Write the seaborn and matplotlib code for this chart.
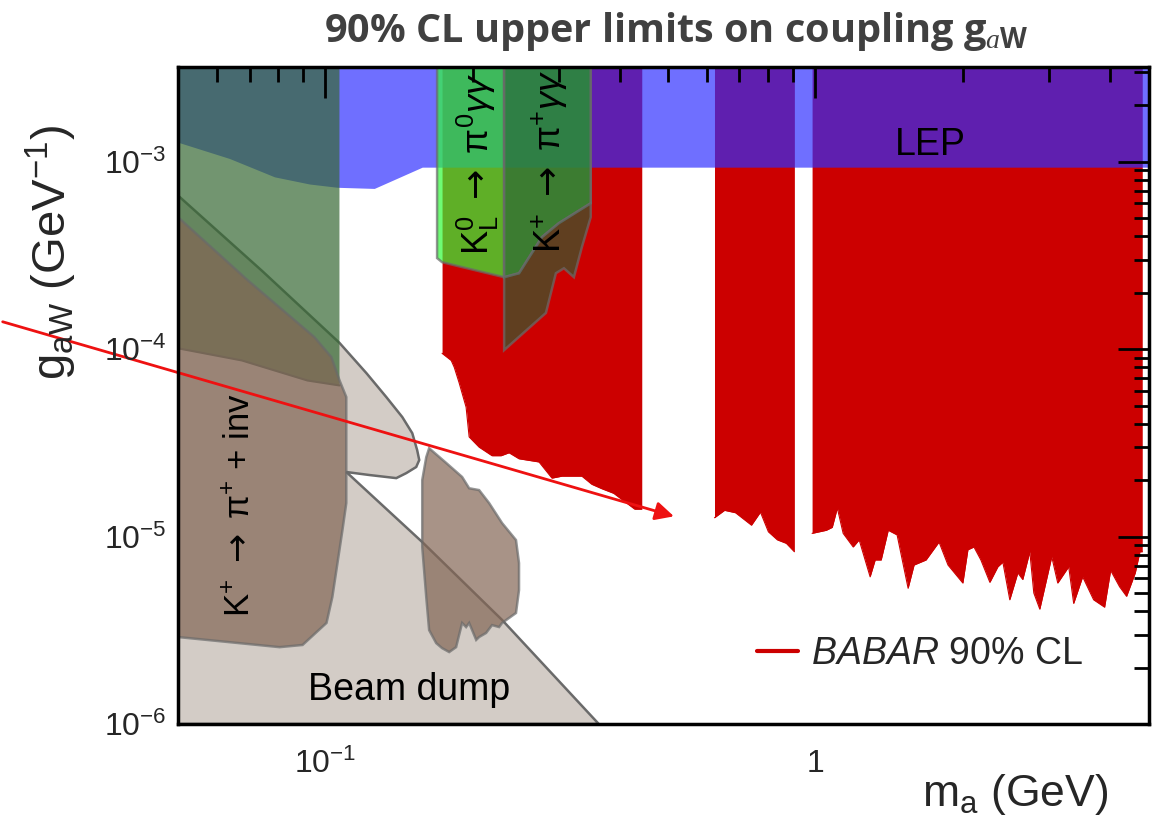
import numpy as np
import matplotlib
matplotlib.use("Agg")
import matplotlib.pyplot as plt
from matplotlib.lines import Line2D
from matplotlib.ticker import LogLocator, NullFormatter, FixedLocator, FixedFormatter
import seaborn as sns

# ---------------- axis ranges ----------------
m_lo, m_hi = 0.05, 4.8          # m_a (GeV)
g_lo, g_hi = 1e-6, 3.2e-3       # g_aW (GeV^-1)

# ---------------- BABAR 90% CL upper limit (three mass windows) ----------------
babar_m1 = [0.173, 0.1806, 0.1832, 0.1875, 0.1937, 0.1965, 0.2059, 0.2188, 0.2284, 0.237,
            0.2484, 0.2729, 0.29, 0.3039, 0.3338, 0.3498, 0.3666, 0.3878, 0.428, 0.4423]
babar_g1 = [9.5e-5, 8.7e-5, 8.0e-5, 6.6e-5, 4.9e-5, 3.4e-5, 3.0e-5, 2.7e-5, 2.7e-5, 2.8e-5,
            2.6e-5, 2.5e-5, 2.05e-5, 2.1e-5, 2.1e-5, 1.9e-5, 1.8e-5, 1.7e-5, 1.4e-5, 1.4e-5]

babar_m2 = [0.6226, 0.6527, 0.6873, 0.7408, 0.7727, 0.8022, 0.8368, 0.8727, 0.9063]
babar_g2 = [1.26e-5, 1.38e-5, 1.34e-5, 1.15e-5, 1.35e-5, 1.06e-5, 9.6e-6, 9.2e-6, 8.3e-6]

babar_m3 = [0.985, 1.053, 1.083, 1.109, 1.14, 1.195, 1.229, 1.294, 1.325, 1.363,
            1.409, 1.469, 1.547, 1.591, 1.683, 1.789, 1.866, 2.001, 2.049, 2.108,
            2.178, 2.272, 2.359, 2.415, 2.495, 2.591, 2.652, 2.741, 2.793, 2.873,
            3.039, 3.126, 3.291, 3.369, 3.514, 3.70, 3.896, 4.008, 4.18, 4.32,
            4.5, 4.6, 4.65]
babar_g3 = [1.04e-5, 1.08e-5, 1.12e-5, 1.42e-5, 1.04e-5, 8.8e-6, 9.6e-6, 6.1e-6, 7.5e-6, 7.5e-6,
            1.08e-5, 1.02e-5, 5.3e-6, 7.05e-6, 7.5e-6, 9.35e-6, 7.05e-6, 5.65e-6, 8.5e-6, 8.8e-6,
            7.5e-6, 5.7e-6, 6.9e-6, 7.3e-6, 4.6e-6, 6.4e-6, 5.9e-6, 8.3e-6, 5.0e-6, 4.1e-6,
            7.8e-6, 5.65e-6, 6.9e-6, 4.4e-6, 6.1e-6, 4.6e-6, 4.2e-6, 6.6e-6, 5.4e-6, 4.8e-6,
            6.4e-6, 8.3e-6, 8.3e-6]

# ---------------- LEP (lower edge of excluded band) ----------------
lep_m = [0.05, 0.0637, 0.0787, 0.0928, 0.1058, 0.1258, 0.1576, 4.8]
lep_g = [1.27e-3, 1.04e-3, 8.3e-4, 7.6e-4, 7.3e-4, 7.2e-4, 9.35e-4, 9.35e-4]

# ---------------- beam dump ----------------
dump_m = [0.05, 0.0744, 0.1068, 0.1212, 0.1331, 0.1435, 0.1504, 0.1539, 0.1554, 0.1532,
          0.1462, 0.1395, 0.1229, 0.1103, 0.1576, 0.2294, 0.3614, 0.05]
dump_g = [6.6e-4, 2.6e-4, 1.08e-4, 7.45e-5, 5.55e-5, 4.34e-5, 3.56e-5, 2.89e-5, 2.56e-5, 2.35e-5,
          2.18e-5, 2.05e-5, 2.13e-5, 2.21e-5, 9.35e-6, 3.59e-6, 1e-6, 1e-6]

# ---------------- low-mass green band ----------------
green_m = [0.05, 0.1068, 0.1068, 0.0919, 0.0675, 0.05]
green_g = [g_hi, g_hi, 6.4e-5, 6.8e-5, 8.7e-5, 1.01e-4]

# ---------------- K+ -> pi+ + inv ----------------
kinv_m = [0.05, 0.0694, 0.0949, 0.1028, 0.1068, 0.1103, 0.1103, 0.1083, 0.1033, 0.1005,
          0.0898, 0.0806, 0.05]
kinv_g = [5.06e-4, 2.33e-4, 1.16e-4, 9.07e-5, 6.83e-5, 5.55e-5, 1.51e-5, 1.08e-5, 4.76e-6, 3.46e-6,
          2.64e-6, 2.57e-6, 2.91e-6]

kinv2_m = [0.1628, 0.1764, 0.1901, 0.1965, 0.2059, 0.2158, 0.2294, 0.2449, 0.2484, 0.2484,
           0.2449, 0.2294, 0.2262, 0.2188, 0.2128, 0.2059, 0.2031, 0.1965, 0.1937, 0.1901,
           0.1848, 0.1789, 0.173, 0.1683, 0.1628, 0.1606, 0.1576, 0.1576, 0.1606]
kinv2_g = [2.96e-5, 2.47e-5, 2.08e-5, 1.81e-5, 1.77e-5, 1.51e-5, 1.18e-5, 9.58e-6, 7.22e-6, 5.18e-6,
           3.91e-6, 3.46e-6, 3.29e-6, 3.37e-6, 3.06e-6, 2.91e-6, 2.81e-6, 3.46e-6, 3.29e-6, 3.46e-6,
           2.57e-6, 2.42e-6, 2.54e-6, 2.7e-6, 3.17e-6, 4.76e-6, 8.79e-6, 2.0e-5, 2.65e-5]

# ---------------- K_L -> pi0 gamma gamma ----------------
kl_m = [0.169, 0.2316, 0.2316, 0.1901, 0.173, 0.169]
kl_g = [g_hi, g_hi, 2.42e-4, 2.74e-4, 2.91e-4, 3.06e-4]

# ---------------- K+ -> pi+ gamma gamma ----------------
kp_m = [0.2316, 0.348, 0.348, 0.2996, 0.2767, 0.2484, 0.2316]
kp_g = [g_hi, g_hi, 6.0e-4, 4.7e-4, 3.96e-4, 2.54e-4, 2.42e-4]

kp2_m = [0.2316, 0.2484, 0.2767, 0.2996, 0.348, 0.348, 0.3338, 0.3215, 0.3068, 0.2954, 0.2819, 0.2316]
kp2_g = [2.42e-4, 2.54e-4, 3.96e-4, 4.7e-4, 6.0e-4, 5.06e-4, 3.5e-4, 2.42e-4, 2.7e-4, 2.54e-4, 1.56e-4, 9.88e-5]

# ---------------- axis tick labels ----------------
x_major = [0.1, 1.0]
x_major_labels = [r"10$^{-1}$", "1"]
y_major = [1e-6, 1e-5, 1e-4, 1e-3]
y_major_labels = [r"10$^{-6}$", r"10$^{-5}$", r"10$^{-4}$", r"10$^{-3}$"]

# ---------------- style ----------------
sns.set_theme(style="white")
plt.rcParams["font.family"] = ["Liberation Sans", "DejaVu Sans"]
plt.rcParams["mathtext.fontset"] = "custom"
plt.rcParams["mathtext.rm"] = "Liberation Sans"
plt.rcParams["mathtext.it"] = "Liberation Sans:italic"
plt.rcParams["mathtext.bf"] = "Liberation Sans:bold"
plt.rcParams["mathtext.sf"] = "Liberation Serif:italic"
plt.rcParams["mathtext.tt"] = "DejaVu Sans"

RED = "#cc0000"
EDGE = "#6a6a6a"
ARROW = r"$\mathtt{\rightarrow}$"

fig = plt.figure(figsize=(11.64, 8.18), dpi=100)
ax = fig.add_axes([178 / 1164, 1 - 724 / 818, 971 / 1164, 657 / 818])
ax.set_xscale("log")
ax.set_yscale("log")
ax.set_xlim(m_lo, m_hi)
ax.set_ylim(g_lo, g_hi)

# beam dump (bottom layer)
ax.fill(dump_m, dump_g, facecolor="#d3ccc6", edgecolor=EDGE, lw=1.8, zorder=1)

# BABAR exclusion: from the limit up to the top of the frame
for m, g in ((babar_m1, babar_g1), (babar_m2, babar_g2), (babar_m3, babar_g3)):
    ax.fill_between(m, g, g_hi, color=RED, lw=0, zorder=2)
    sns.lineplot(x=m, y=g, color=RED, lw=0.8, ax=ax, legend=False, zorder=2,
                 estimator=None, sort=False)

# LEP band
ax.fill_between(lep_m, lep_g, g_hi, color="#2e2eff", alpha=0.69, lw=0, zorder=3)

# low-mass green band
ax.fill(green_m, green_g, facecolor="#366933", alpha=0.7, edgecolor="none", zorder=4)
ax.plot(green_m[2:], green_g[2:], color="#55665a", lw=1.5, zorder=4)

# K+ -> pi+ + inv regions
ax.fill(kinv_m, kinv_g, facecolor="#836655", alpha=0.7, edgecolor=EDGE, lw=1.8, zorder=5)
ax.fill(kinv2_m, kinv2_g, facecolor="#836655", alpha=0.7, edgecolor=EDGE, lw=1.8, zorder=5)

# kaon rare decays with two photons
ax.fill(kl_m, kl_g, facecolor="#31fb39", alpha=0.7, edgecolor=EDGE, lw=1.8, zorder=6)
ax.fill(kp_m, kp_g, facecolor="#2a8c38", alpha=0.89, edgecolor=EDGE, lw=1.8, zorder=6)
ax.fill(kp2_m, kp2_g, facecolor="#325b2e", alpha=0.7, edgecolor=EDGE, lw=1.8, zorder=7)

# ---------------- labels inside the plot ----------------
lab = dict(color="black", zorder=9)
ax.text(1.72, 1.22e-3, "LEP", fontsize=27, ha="center", va="center", **lab)
ax.text(0.148, 1.52e-6, "Beam dump", fontsize=27, ha="center", va="center", **lab)
ax.text(0.067, 1.47e-5, "K$^{+}$ " + ARROW + r" $\mathrm{\pi}^{+}$ + inv", fontsize=25,
        rotation=90, ha="center", va="center", **lab)
ax.text(0.205, 3.17e-4, r"K$_{\mathrm{L}}^{\mathrm{0}}$ " + ARROW + r" $\mathrm{\pi}^{0}\gamma\gamma$",
        fontsize=26, rotation=90, rotation_mode="anchor", ha="left", va="center",
        clip_on=True, **lab)
ax.text(0.287, 3.25e-4, "K$^{+}$ " + ARROW + r" $\mathrm{\pi}^{+}\gamma\gamma$",
        fontsize=26, rotation=90, rotation_mode="anchor", ha="left", va="center",
        clip_on=True, **lab)

# legend
leg = ax.legend(handles=[Line2D([], [], color=RED, lw=3)],
                labels=[r"$\mathit{BABAR}$ 90% CL"],
                loc="center right", bbox_to_anchor=(0.9322, 0.1065),
                frameon=False, fontsize=27, handlelength=1.1, handletextpad=0.35,
                borderaxespad=0, borderpad=0)
leg.set_zorder(10)

# arrow pointing at the gap in the limit
ax.annotate("", xy=(0.521, 1.27e-5), xycoords="data",
            xytext=(0, 497), textcoords="figure pixels",
            arrowprops=dict(arrowstyle="-|>", color="#ee1111", lw=2, mutation_scale=28),
            annotation_clip=False, zorder=11)

# ---------------- axes, ticks ----------------
ax.xaxis.set_major_locator(FixedLocator(x_major))
ax.xaxis.set_major_formatter(FixedFormatter(x_major_labels))
ax.yaxis.set_major_locator(FixedLocator(y_major))
ax.yaxis.set_major_formatter(FixedFormatter(y_major_labels))
ax.xaxis.set_minor_locator(LogLocator(base=10, subs=np.arange(2, 10), numticks=20))
ax.yaxis.set_minor_locator(LogLocator(base=10, subs=np.arange(2, 10), numticks=20))
ax.xaxis.set_minor_formatter(NullFormatter())
ax.yaxis.set_minor_formatter(NullFormatter())

ax.tick_params(which="both", direction="in", top=True, right=True, color="black", width=2)
ax.tick_params(which="major", length=22, labelsize=23)
ax.tick_params(which="minor", length=11)
ax.tick_params(axis="x", which="major", pad=18)
ax.tick_params(axis="y", which="major", pad=8)
ax.xaxis.set_zorder(20)
ax.yaxis.set_zorder(20)
for s in ax.spines.values():
    s.set_linewidth(2.5)
    s.set_color("black")
    s.set_zorder(21)

ax.set_xlabel(r"m$_{\mathrm{a}}$ (GeV)", fontsize=32, ha="right", va="center")
ax.xaxis.set_label_coords(0.958, -0.108)
ax.set_ylabel(r"g$_{\mathrm{aW}}$ (GeV$^{\mathrm{-1}}$)", fontsize=34, va="center")
ax.yaxis.set_label_coords(-0.13, 0.717)

fig.text(0.581, 0.962, r"90% CL upper limits on coupling g$_{\mathsf{a}\mathdefault{W}}$",
         fontfamily=["Open Sans", "DejaVu Sans"], fontweight="bold", fontsize=28.5,
         color="#404040", ha="center", va="center")

fig.savefig("out.png", dpi=100)
